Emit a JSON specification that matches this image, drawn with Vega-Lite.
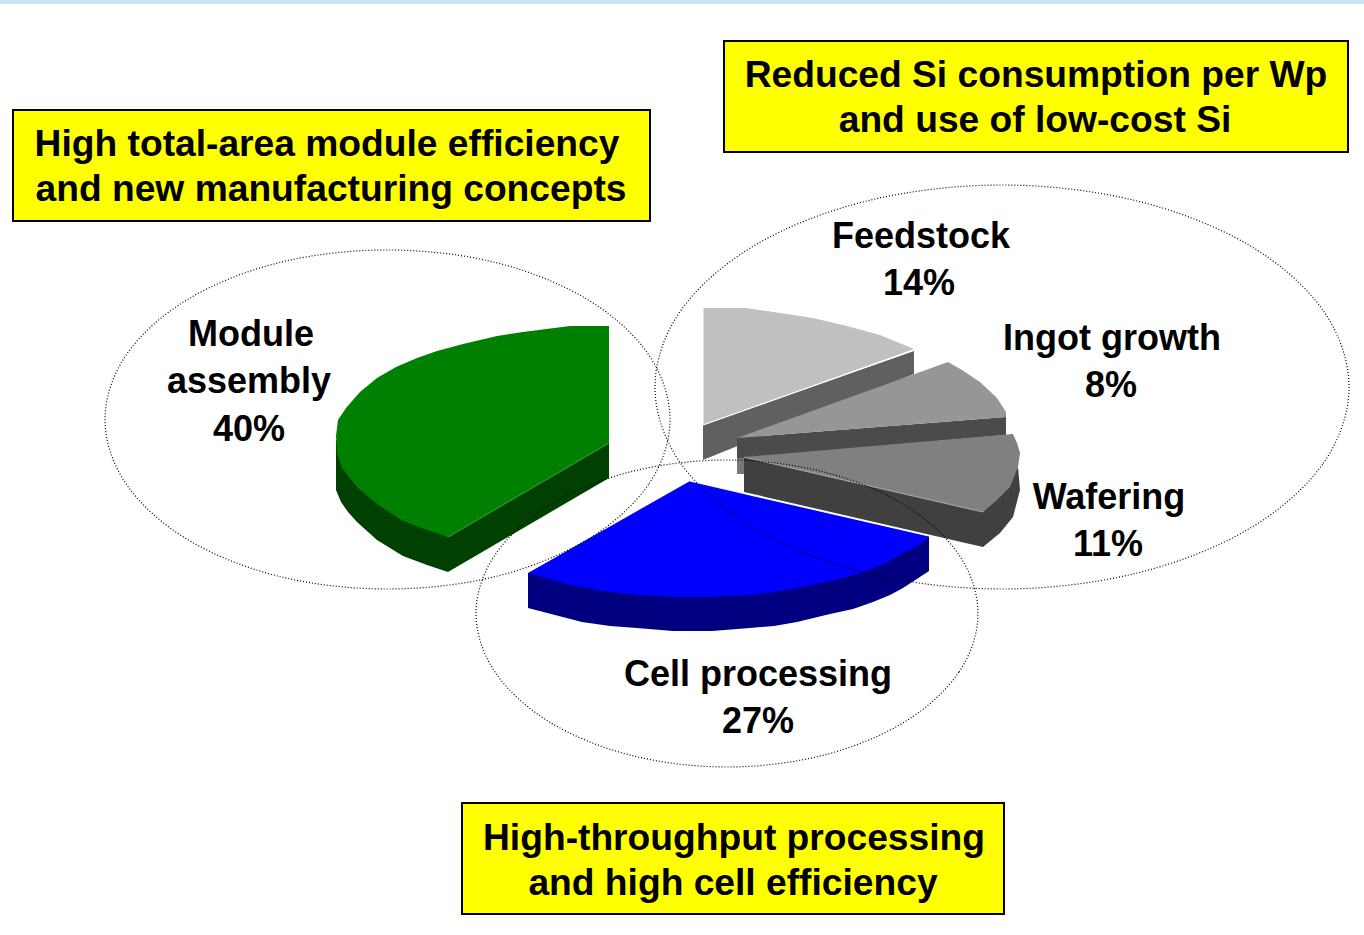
{"$schema":"https://vega.github.io/schema/vega-lite/v6.json","width":1364,"height":935,"padding":0,"autosize":{"type":"none"},"background":"white","view":{"stroke":null},"datasets":{"band":[{"x":0,"x2":1364,"y":0,"y2":4}],"boxes":[{"x":13,"x2":650,"y":110,"y2":221},{"x":724,"x2":1348,"y":41,"y2":152},{"x":462,"x2":1004,"y":803,"y2":914}],"notes":[{"t":"High total-area module efficiency","x":327,"y":156},{"t":"and new manufacturing concepts","x":331,"y":201},{"t":"Reduced Si consumption per Wp","x":1036,"y":87},{"t":"and use of low-cost Si","x":1035,"y":132},{"t":"High-throughput processing","x":734,"y":850},{"t":"and high cell efficiency","x":733,"y":895}],"labels":[{"t":"Feedstock","x":921,"y":248},{"t":"14%","x":919,"y":295},{"t":"Ingot growth","x":1112,"y":350},{"t":"8%","x":1111,"y":397},{"t":"Wafering","x":1109,"y":509},{"t":"11%","x":1108,"y":556},{"t":"Module","x":251,"y":346},{"t":"assembly","x":249,"y":393},{"t":"40%","x":249,"y":441},{"t":"Cell processing","x":758,"y":686},{"t":"27%","x":758,"y":733}],
"edges":[{"edge":"feed","i":1,"x":703,"y":425},{"edge":"feed","i":2,"x":914,"y":350},{"edge":"wafer","i":1,"x":744,"y":457},{"edge":"wafer","i":2,"x":983,"y":512},{"edge":"module","i":1,"x":448,"y":537},{"edge":"module","i":2,"x":609,"y":443},{"edge":"cell","i":1,"x":690,"y":481},{"edge":"cell","i":2,"x":929,"y":536}],
"slices":[
{"face":"feedSide","i":1,"x":703,"y":425},{"face":"feedSide","i":2,"x":914,"y":351},{"face":"feedSide","i":3,"x":914,"y":374},{"face":"feedSide","i":4,"x":703,"y":460},
{"face":"feedTop","i":1,"x":703.5,"y":308},{"face":"feedTop","i":2,"x":746,"y":308},{"face":"feedTop","i":3,"x":780,"y":313},{"face":"feedTop","i":4,"x":813,"y":318},{"face":"feedTop","i":5,"x":847,"y":326},{"face":"feedTop","i":6,"x":880,"y":335},{"face":"feedTop","i":7,"x":914,"y":349},{"face":"feedTop","i":8,"x":703.5,"y":425},
{"face":"ingotFoot","i":1,"x":737,"y":456},{"face":"ingotFoot","i":2,"x":744,"y":457},{"face":"ingotFoot","i":3,"x":744,"y":474},{"face":"ingotFoot","i":4,"x":737,"y":474},
{"face":"ingotSide","i":1,"x":737,"y":438},{"face":"ingotSide","i":2,"x":1006,"y":417},{"face":"ingotSide","i":3,"x":1006,"y":435},{"face":"ingotSide","i":4,"x":744,"y":458},{"face":"ingotSide","i":5,"x":737,"y":458},
{"face":"ingotTop","i":1,"x":737,"y":438},{"face":"ingotTop","i":2,"x":948,"y":362},{"face":"ingotTop","i":3,"x":962,"y":370},{"face":"ingotTop","i":4,"x":980,"y":382},{"face":"ingotTop","i":5,"x":997,"y":398},{"face":"ingotTop","i":6,"x":1006,"y":412},{"face":"ingotTop","i":7,"x":1006,"y":417},
{"face":"waferSide","i":1,"x":744,"y":457},{"face":"waferSide","i":2,"x":983,"y":512},{"face":"waferSide","i":3,"x":1018,"y":467},{"face":"waferSide","i":4,"x":1020,"y":490},{"face":"waferSide","i":5,"x":1013,"y":517},{"face":"waferSide","i":6,"x":1000,"y":533},{"face":"waferSide","i":7,"x":983,"y":547},{"face":"waferSide","i":8,"x":744,"y":492},
{"face":"waferTop","i":1,"x":744,"y":457},{"face":"waferTop","i":2,"x":1013,"y":434},{"face":"waferTop","i":3,"x":1017,"y":443},{"face":"waferTop","i":4,"x":1020,"y":453},{"face":"waferTop","i":5,"x":1018,"y":467},{"face":"waferTop","i":6,"x":1010,"y":487},{"face":"waferTop","i":7,"x":997,"y":500},{"face":"waferTop","i":8,"x":983,"y":512},
{"face":"moduleSide","i":1,"x":336,"y":440},{"face":"moduleSide","i":2,"x":336,"y":490},{"face":"moduleSide","i":3,"x":341,"y":502},{"face":"moduleSide","i":4,"x":348,"y":512},{"face":"moduleSide","i":5,"x":357,"y":522},{"face":"moduleSide","i":6,"x":377,"y":540},{"face":"moduleSide","i":7,"x":403,"y":556},{"face":"moduleSide","i":8,"x":427,"y":565},{"face":"moduleSide","i":9,"x":448,"y":572},{"face":"moduleSide","i":10,"x":609,"y":478},{"face":"moduleSide","i":11,"x":609,"y":443},{"face":"moduleSide","i":12,"x":448,"y":537},
{"face":"moduleTop","i":1,"x":609,"y":326},{"face":"moduleTop","i":2,"x":570,"y":326},{"face":"moduleTop","i":3,"x":523,"y":332},{"face":"moduleTop","i":4,"x":497,"y":336},{"face":"moduleTop","i":5,"x":463,"y":344},{"face":"moduleTop","i":6,"x":437,"y":351},{"face":"moduleTop","i":7,"x":417,"y":358},{"face":"moduleTop","i":8,"x":396,"y":367},{"face":"moduleTop","i":9,"x":377,"y":378},{"face":"moduleTop","i":10,"x":360,"y":392},{"face":"moduleTop","i":11,"x":346,"y":408},{"face":"moduleTop","i":12,"x":338,"y":420},{"face":"moduleTop","i":13,"x":336,"y":436},{"face":"moduleTop","i":14,"x":337,"y":453},{"face":"moduleTop","i":15,"x":342,"y":468},{"face":"moduleTop","i":16,"x":357,"y":487},{"face":"moduleTop","i":17,"x":377,"y":504},{"face":"moduleTop","i":18,"x":403,"y":521},{"face":"moduleTop","i":19,"x":427,"y":530},{"face":"moduleTop","i":20,"x":448,"y":537},{"face":"moduleTop","i":21,"x":609,"y":443},
{"face":"cellSide","i":1,"x":528,"y":573},{"face":"cellSide","i":2,"x":528,"y":608},{"face":"cellSide","i":3,"x":582,"y":622},{"face":"cellSide","i":4,"x":610,"y":626},{"face":"cellSide","i":5,"x":637,"y":628},{"face":"cellSide","i":6,"x":673,"y":631},{"face":"cellSide","i":7,"x":712,"y":631},{"face":"cellSide","i":8,"x":750,"y":628},{"face":"cellSide","i":9,"x":774,"y":626},{"face":"cellSide","i":10,"x":797,"y":622},{"face":"cellSide","i":11,"x":830,"y":614},{"face":"cellSide","i":12,"x":853,"y":609},{"face":"cellSide","i":13,"x":873,"y":602},{"face":"cellSide","i":14,"x":890,"y":595},{"face":"cellSide","i":15,"x":903,"y":588},{"face":"cellSide","i":16,"x":929,"y":571},{"face":"cellSide","i":17,"x":929,"y":536},
{"face":"cellTop","i":1,"x":690,"y":481},{"face":"cellTop","i":2,"x":929,"y":536},{"face":"cellTop","i":3,"x":918,"y":546},{"face":"cellTop","i":4,"x":903,"y":553},{"face":"cellTop","i":5,"x":884,"y":564},{"face":"cellTop","i":6,"x":863,"y":572},{"face":"cellTop","i":7,"x":847,"y":577},{"face":"cellTop","i":8,"x":830,"y":581},{"face":"cellTop","i":9,"x":797,"y":588},{"face":"cellTop","i":10,"x":774,"y":592},{"face":"cellTop","i":11,"x":750,"y":595},{"face":"cellTop","i":12,"x":710,"y":597},{"face":"cellTop","i":13,"x":673,"y":597},{"face":"cellTop","i":14,"x":637,"y":595},{"face":"cellTop","i":15,"x":603,"y":591},{"face":"cellTop","i":16,"x":570,"y":585},{"face":"cellTop","i":17,"x":528,"y":573}],
"ellipses":[
{"e":"a","i":1,"x":670,"y":419.5},{"e":"a","i":2,"x":648.5,"y":484.5},{"e":"a","i":3,"x":587.5,"y":539.5},{"e":"a","i":4,"x":495.5,"y":576.5},{"e":"a","i":5,"x":387.5,"y":589},{"e":"a","i":6,"x":279.5,"y":576.5},{"e":"a","i":7,"x":187.5,"y":539.5},{"e":"a","i":8,"x":126.5,"y":484.5},{"e":"a","i":9,"x":105,"y":419.5},{"e":"a","i":10,"x":126.5,"y":354.5},{"e":"a","i":11,"x":187.5,"y":299.5},{"e":"a","i":12,"x":279.5,"y":262.5},{"e":"a","i":13,"x":387.5,"y":250},{"e":"a","i":14,"x":495.5,"y":262.5},{"e":"a","i":15,"x":587.5,"y":299.5},{"e":"a","i":16,"x":648.5,"y":354.5},
{"e":"b","i":1,"x":1349,"y":387},{"e":"b","i":2,"x":1322.6,"y":464.3},{"e":"b","i":3,"x":1247.4,"y":529.8},{"e":"b","i":4,"x":1134.8,"y":573.6},{"e":"b","i":5,"x":1002,"y":589},{"e":"b","i":6,"x":869.2,"y":573.6},{"e":"b","i":7,"x":756.6,"y":529.8},{"e":"b","i":8,"x":681.4,"y":464.3},{"e":"b","i":9,"x":655,"y":387},{"e":"b","i":10,"x":681.4,"y":309.7},{"e":"b","i":11,"x":756.6,"y":244.2},{"e":"b","i":12,"x":869.2,"y":200.4},{"e":"b","i":13,"x":1002,"y":185},{"e":"b","i":14,"x":1134.8,"y":200.4},{"e":"b","i":15,"x":1247.4,"y":244.2},{"e":"b","i":16,"x":1322.6,"y":309.7},
{"e":"c","i":1,"x":978,"y":613.5},{"e":"c","i":2,"x":958.9,"y":672.2},{"e":"c","i":3,"x":904.5,"y":722},{"e":"c","i":4,"x":823,"y":755.3},{"e":"c","i":5,"x":727,"y":767},{"e":"c","i":6,"x":631,"y":755.3},{"e":"c","i":7,"x":549.5,"y":722},{"e":"c","i":8,"x":495.1,"y":672.2},{"e":"c","i":9,"x":476,"y":613.5},{"e":"c","i":10,"x":495.1,"y":554.8},{"e":"c","i":11,"x":549.5,"y":505},{"e":"c","i":12,"x":631,"y":471.7},{"e":"c","i":13,"x":727,"y":460},{"e":"c","i":14,"x":823,"y":471.7},{"e":"c","i":15,"x":904.5,"y":505},{"e":"c","i":16,"x":958.9,"y":554.8}]},
"encoding":{"x":{"field":"x","type":"quantitative","scale":{"domain":[0,1364],"nice":false,"zero":false},"axis":null},"y":{"field":"y","type":"quantitative","scale":{"domain":[935,0],"nice":false,"zero":false},"axis":null}},
"layer":[
{"data":{"name":"band"},"mark":{"type":"rect","fill":"#cfe2f3"},"encoding":{"x2":{"field":"x2"},"y2":{"field":"y2"}}},
{"data":{"name":"slices"},"mark":{"type":"line","interpolate":"linear-closed","filled":true,"strokeWidth":0},"encoding":{"order":{"field":"i","type":"quantitative"},"fill":{"field":"face","type":"nominal","legend":null,"sort":null,"scale":{"domain":["feedSide","feedTop","ingotFoot","ingotSide","ingotTop","waferSide","waferTop","moduleSide","moduleTop","cellSide","cellTop"],"range":["#606060","#c0c0c0","#777777","#4b4b4b","#969696","#404040","#808080","#004000","#008000","#000080","#0000ff"]}}}},
{"data":{"name":"edges"},"mark":{"type":"line","strokeWidth":1.2},"encoding":{"order":{"field":"i","type":"quantitative"},"stroke":{"field":"edge","type":"nominal","legend":null,"scale":{"domain":["feed","wafer","module","cell"],"range":["#ffffff","#a0a0a0","#2f8f2f","#ffffff"]}}}},
{"data":{"name":"ellipses"},"mark":{"type":"line","interpolate":"cardinal-closed","stroke":"#000000","strokeWidth":1.2,"strokeDash":[1,2]},"encoding":{"detail":{"field":"e"},"order":{"field":"i","type":"quantitative"}}},
{"data":{"name":"boxes"},"mark":{"type":"rect","fill":"#ffff00","stroke":"#000000","strokeWidth":2},"encoding":{"x2":{"field":"x2"},"y2":{"field":"y2"}}},
{"data":{"name":"notes"},"mark":{"type":"text","font":"Liberation Sans","fontWeight":"bold","fontSize":37.2,"align":"center","baseline":"alphabetic","color":"#000000"},"encoding":{"text":{"field":"t"}}},
{"data":{"name":"labels"},"mark":{"type":"text","font":"Liberation Sans","fontWeight":"bold","fontSize":36,"align":"center","baseline":"alphabetic","color":"#000000"},"encoding":{"text":{"field":"t"}}}
]}
